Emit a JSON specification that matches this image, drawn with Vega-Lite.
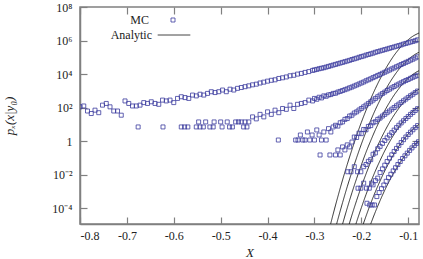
{
"$schema":"https://vega.github.io/schema/vega-lite/v6.json",
"width":339,"height":217,"autosize":"none",
"padding":{"left":80,"top":7,"right":4,"bottom":35},
"config":{
 "font":"Liberation Serif",
 "view":{"stroke":"#808080","strokeWidth":1.5},
 "axis":{"grid":false,"domainColor":"#808080","domainWidth":1.5,"tickColor":"#808080","tickWidth":1.2,"tickSize":-7,
   "labelFont":"Liberation Serif","labelFontSize":12,"labelColor":"#222",
   "titleFont":"Liberation Serif","titleFontStyle":"italic","titleFontWeight":"normal","titleFontSize":13,"titleColor":"#222"},
 "legend":{"labelFont":"Liberation Serif","labelFontSize":12,"labelColor":"#222","padding":0}
},
"datasets":{
"an":[
{"s":1,"x":-0.27,"y":3.72e-6},{"s":1,"x":-0.26,"y":4.57e-5},{"s":1,"x":-0.25,"y":5.01e-4},{"s":1,"x":-0.24,"y":4.9e-3},{"s":1,"x":-0.23,"y":0.0417},{"s":1,"x":-0.22,"y":0.316},{"s":1,"x":-0.21,"y":2.19},{"s":1,"x":-0.2,"y":13.2},{"s":1,"x":-0.19,"y":69.2},{"s":1,"x":-0.18,"y":331},{"s":1,"x":-0.17,"y":1380},{"s":1,"x":-0.16,"y":5129},{"s":1,"x":-0.15,"y":1.7e4},{"s":1,"x":-0.14,"y":5.01e4},{"s":1,"x":-0.13,"y":1.32e5},{"s":1,"x":-0.12,"y":3.02e5},{"s":1,"x":-0.11,"y":6.17e5},{"s":1,"x":-0.1,"y":1.12e6},{"s":1,"x":-0.09,"y":1.82e6},{"s":1,"x":-0.08,"y":2.57e6},{"s":1,"x":-0.077,"y":2.82e6},
{"s":2,"x":-0.26,"y":1.95e-6},{"s":2,"x":-0.25,"y":2.19e-5},{"s":2,"x":-0.24,"y":2.19e-4},{"s":2,"x":-0.23,"y":1.95e-3},{"s":2,"x":-0.22,"y":0.0151},{"s":2,"x":-0.21,"y":0.105},{"s":2,"x":-0.2,"y":0.661},{"s":2,"x":-0.19,"y":3.63},{"s":2,"x":-0.18,"y":17.4},{"s":2,"x":-0.17,"y":75.9},{"s":2,"x":-0.16,"y":288},{"s":2,"x":-0.15,"y":977},{"s":2,"x":-0.14,"y":2951},{"s":2,"x":-0.13,"y":7943},{"s":2,"x":-0.12,"y":1.91e4},{"s":2,"x":-0.11,"y":3.98e4},{"s":2,"x":-0.1,"y":7.41e4},{"s":2,"x":-0.09,"y":1.23e5},{"s":2,"x":-0.08,"y":1.82e5},{"s":2,"x":-0.077,"y":2.0e5},
{"s":3,"x":-0.245,"y":3.63e-6},{"s":3,"x":-0.24,"y":1.15e-5},{"s":3,"x":-0.23,"y":1.05e-4},{"s":3,"x":-0.22,"y":8.51e-4},{"s":3,"x":-0.21,"y":6.03e-3},{"s":3,"x":-0.2,"y":0.038},{"s":3,"x":-0.19,"y":0.219},{"s":3,"x":-0.18,"y":1.07},{"s":3,"x":-0.17,"y":4.79},{"s":3,"x":-0.16,"y":18.6},{"s":3,"x":-0.15,"y":66.1},{"s":3,"x":-0.14,"y":204},{"s":3,"x":-0.13,"y":562},{"s":3,"x":-0.12,"y":1349},{"s":3,"x":-0.11,"y":2951},{"s":3,"x":-0.1,"y":5623},{"s":3,"x":-0.09,"y":9550},{"s":3,"x":-0.08,"y":1.45e4},{"s":3,"x":-0.077,"y":1.58e4},
{"s":4,"x":-0.23,"y":4.68e-6},{"s":4,"x":-0.22,"y":3.98e-5},{"s":4,"x":-0.21,"y":2.95e-4},{"s":4,"x":-0.2,"y":1.95e-3},{"s":4,"x":-0.19,"y":0.0112},{"s":4,"x":-0.18,"y":0.0589},{"s":4,"x":-0.17,"y":0.269},{"s":4,"x":-0.16,"y":1.1},{"s":4,"x":-0.15,"y":3.98},{"s":4,"x":-0.14,"y":12.9},{"s":4,"x":-0.13,"y":36.3},{"s":4,"x":-0.12,"y":91.2},{"s":4,"x":-0.11,"y":204},{"s":4,"x":-0.1,"y":407},{"s":4,"x":-0.09,"y":724},{"s":4,"x":-0.08,"y":1122},{"s":4,"x":-0.077,"y":1259},
{"s":5,"x":-0.215,"y":5.75e-6},{"s":5,"x":-0.21,"y":1.58e-5},{"s":5,"x":-0.2,"y":1.07e-4},{"s":5,"x":-0.19,"y":6.61e-4},{"s":5,"x":-0.18,"y":3.55e-3},{"s":5,"x":-0.17,"y":0.017},{"s":5,"x":-0.16,"y":0.0708},{"s":5,"x":-0.15,"y":0.269},{"s":5,"x":-0.14,"y":0.891},{"s":5,"x":-0.13,"y":2.63},{"s":5,"x":-0.12,"y":6.92},{"s":5,"x":-0.11,"y":16.2},{"s":5,"x":-0.1,"y":33.1},{"s":5,"x":-0.09,"y":61.7},{"s":5,"x":-0.08,"y":100},{"s":5,"x":-0.077,"y":112},
{"s":6,"x":-0.2,"y":5.37e-6},{"s":6,"x":-0.19,"y":3.39e-5},{"s":6,"x":-0.18,"y":1.95e-4},{"s":6,"x":-0.17,"y":9.77e-4},{"s":6,"x":-0.16,"y":4.27e-3},{"s":6,"x":-0.15,"y":0.017},{"s":6,"x":-0.14,"y":0.0589},{"s":6,"x":-0.13,"y":0.182},{"s":6,"x":-0.12,"y":0.501},{"s":6,"x":-0.11,"y":1.23},{"s":6,"x":-0.1,"y":2.69},{"s":6,"x":-0.09,"y":5.13},{"s":6,"x":-0.08,"y":8.71},{"s":6,"x":-0.077,"y":10},
{"s":7,"x":-0.185,"y":5.01e-6},{"s":7,"x":-0.18,"y":1.17e-5},{"s":7,"x":-0.17,"y":6.17e-5},{"s":7,"x":-0.16,"y":2.88e-4},{"s":7,"x":-0.15,"y":1.2e-3},{"s":7,"x":-0.14,"y":4.37e-3},{"s":7,"x":-0.13,"y":0.0141},{"s":7,"x":-0.12,"y":0.0407},{"s":7,"x":-0.11,"y":0.105},{"s":7,"x":-0.1,"y":0.24},{"s":7,"x":-0.09,"y":0.479},{"s":7,"x":-0.08,"y":0.851},{"s":7,"x":-0.077,"y":1.0}
],
"mc":[
{"s":1,"x":-0.8,"y":112},{"s":1,"x":-0.792,"y":126},{"s":1,"x":-0.784,"y":63.1},{"s":1,"x":-0.776,"y":44.7},{"s":1,"x":-0.768,"y":70.8},{"s":1,"x":-0.76,"y":50.1},{"s":1,"x":-0.752,"y":141},{"s":1,"x":-0.744,"y":178},{"s":1,"x":-0.736,"y":112},{"s":1,"x":-0.728,"y":63.1},{"s":1,"x":-0.72,"y":63.1},{"s":1,"x":-0.712,"y":35.5},{"s":1,"x":-0.704,"y":251},{"s":1,"x":-0.696,"y":178},{"s":1,"x":-0.688,"y":126},{"s":1,"x":-0.68,"y":126},{"s":1,"x":-0.672,"y":141},{"s":1,"x":-0.664,"y":200},{"s":1,"x":-0.656,"y":178},{"s":1,"x":-0.648,"y":224},{"s":1,"x":-0.64,"y":178},{"s":1,"x":-0.632,"y":158},{"s":1,"x":-0.624,"y":282},{"s":1,"x":-0.616,"y":251},{"s":1,"x":-0.608,"y":282},{"s":1,"x":-0.6,"y":200},{"s":1,"x":-0.592,"y":355},{"s":1,"x":-0.584,"y":447},{"s":1,"x":-0.576,"y":398},{"s":1,"x":-0.568,"y":355},{"s":1,"x":-0.56,"y":562},{"s":1,"x":-0.552,"y":501},{"s":1,"x":-0.544,"y":631},{"s":1,"x":-0.536,"y":562},{"s":1,"x":-0.528,"y":708},{"s":1,"x":-0.52,"y":891},{"s":1,"x":-0.512,"y":794},{"s":1,"x":-0.504,"y":891},{"s":1,"x":-0.496,"y":1122},{"s":1,"x":-0.488,"y":891},{"s":1,"x":-0.48,"y":1259},{"s":1,"x":-0.472,"y":1122},{"s":1,"x":-0.464,"y":1413},{"s":1,"x":-0.456,"y":1585},{"s":1,"x":-0.448,"y":1778},
{"s":1,"x":-0.44,"y":1995},{"s":1,"x":-0.432,"y":2291},{"s":1,"x":-0.424,"y":2512},{"s":1,"x":-0.416,"y":2951},{"s":1,"x":-0.408,"y":3311},{"s":1,"x":-0.4,"y":3802},{"s":1,"x":-0.392,"y":4266},{"s":1,"x":-0.384,"y":4571},{"s":1,"x":-0.376,"y":5495},{"s":1,"x":-0.368,"y":6026},{"s":1,"x":-0.36,"y":6761},{"s":1,"x":-0.352,"y":7943},{"s":1,"x":-0.344,"y":8511},{"s":1,"x":-0.336,"y":10000},{"s":1,"x":-0.328,"y":1.1e4},{"s":1,"x":-0.32,"y":1.26e4},{"s":1,"x":-0.312,"y":1.41e4},{"s":1,"x":-0.304,"y":1.66e4},
{"s":1,"x":-0.3,"y":1.78e4},{"s":1,"x":-0.295,"y":1.91e4},{"s":1,"x":-0.29,"y":2.09e4},{"s":1,"x":-0.285,"y":2.24e4},{"s":1,"x":-0.28,"y":2.4e4},{"s":1,"x":-0.275,"y":2.63e4},{"s":1,"x":-0.27,"y":2.88e4},{"s":1,"x":-0.265,"y":3.16e4},{"s":1,"x":-0.26,"y":3.47e4},{"s":1,"x":-0.255,"y":3.8e4},{"s":1,"x":-0.25,"y":4.17e4},{"s":1,"x":-0.245,"y":4.57e4},{"s":1,"x":-0.24,"y":5.01e4},{"s":1,"x":-0.235,"y":5.5e4},{"s":1,"x":-0.23,"y":6.03e4},{"s":1,"x":-0.225,"y":6.61e4},{"s":1,"x":-0.22,"y":7.41e4},{"s":1,"x":-0.215,"y":8.13e4},{"s":1,"x":-0.21,"y":8.91e4},{"s":1,"x":-0.205,"y":1.0e5},{"s":1,"x":-0.2,"y":1.1e5},{"s":1,"x":-0.195,"y":1.2e5},{"s":1,"x":-0.19,"y":1.35e5},{"s":1,"x":-0.185,"y":1.48e5},{"s":1,"x":-0.18,"y":1.62e5},{"s":1,"x":-0.175,"y":1.78e5},{"s":1,"x":-0.17,"y":2.0e5},{"s":1,"x":-0.165,"y":2.19e5},{"s":1,"x":-0.16,"y":2.4e5},{"s":1,"x":-0.155,"y":2.63e5},{"s":1,"x":-0.15,"y":2.88e5},{"s":1,"x":-0.145,"y":3.16e5},{"s":1,"x":-0.14,"y":3.47e5},{"s":1,"x":-0.135,"y":3.8e5},{"s":1,"x":-0.13,"y":4.17e5},{"s":1,"x":-0.125,"y":4.57e5},{"s":1,"x":-0.12,"y":5.01e5},{"s":1,"x":-0.115,"y":5.5e5},{"s":1,"x":-0.11,"y":6.17e5},{"s":1,"x":-0.105,"y":6.76e5},{"s":1,"x":-0.1,"y":7.41e5},{"s":1,"x":-0.095,"y":8.13e5},{"s":1,"x":-0.09,"y":8.91e5},{"s":1,"x":-0.085,"y":9.77e5},{"s":1,"x":-0.08,"y":1.1e6},
{"s":2,"x":-0.676,"y":7.08},{"s":2,"x":-0.623,"y":7.08},{"s":2,"x":-0.584,"y":7.08},{"s":2,"x":-0.577,"y":7.08},{"s":2,"x":-0.57,"y":7.08},{"s":2,"x":-0.552,"y":7.08},{"s":2,"x":-0.547,"y":14.1},{"s":2,"x":-0.544,"y":7.08},{"s":2,"x":-0.537,"y":7.08},{"s":2,"x":-0.532,"y":14.1},{"s":2,"x":-0.523,"y":7.08},{"s":2,"x":-0.516,"y":7.08},{"s":2,"x":-0.514,"y":14.1},{"s":2,"x":-0.5,"y":14.1},{"s":2,"x":-0.497,"y":7.08},{"s":2,"x":-0.486,"y":14.1},{"s":2,"x":-0.481,"y":7.08},{"s":2,"x":-0.475,"y":7.08},{"s":2,"x":-0.468,"y":14.1},{"s":2,"x":-0.462,"y":14.1},{"s":2,"x":-0.456,"y":14.1},{"s":2,"x":-0.451,"y":7.08},{"s":2,"x":-0.448,"y":14.1},{"s":2,"x":-0.444,"y":7.08},
{"s":2,"x":-0.44,"y":14.1},{"s":2,"x":-0.432,"y":28.2},{"s":2,"x":-0.424,"y":21.4},{"s":2,"x":-0.416,"y":39.8},{"s":2,"x":-0.408,"y":28.2},{"s":2,"x":-0.4,"y":56.2},{"s":2,"x":-0.392,"y":39.8},{"s":2,"x":-0.384,"y":70.8},{"s":2,"x":-0.376,"y":50.1},{"s":2,"x":-0.368,"y":89.1},{"s":2,"x":-0.36,"y":79.4},{"s":2,"x":-0.352,"y":141},{"s":2,"x":-0.344,"y":89.1},{"s":2,"x":-0.336,"y":158},{"s":2,"x":-0.328,"y":178},{"s":2,"x":-0.32,"y":200},{"s":2,"x":-0.312,"y":282},{"s":2,"x":-0.304,"y":251},
{"s":2,"x":-0.3,"y":355},{"s":2,"x":-0.295,"y":316},{"s":2,"x":-0.29,"y":417},{"s":2,"x":-0.285,"y":380},{"s":2,"x":-0.28,"y":501},{"s":2,"x":-0.275,"y":479},{"s":2,"x":-0.27,"y":575},{"s":2,"x":-0.265,"y":603},{"s":2,"x":-0.26,"y":708},{"s":2,"x":-0.255,"y":724},{"s":2,"x":-0.25,"y":851},{"s":2,"x":-0.245,"y":933},{"s":2,"x":-0.24,"y":1047},{"s":2,"x":-0.235,"y":1175},{"s":2,"x":-0.23,"y":1318},{"s":2,"x":-0.225,"y":1514},{"s":2,"x":-0.22,"y":1698},{"s":2,"x":-0.215,"y":1950},{"s":2,"x":-0.21,"y":2239},{"s":2,"x":-0.205,"y":2570},{"s":2,"x":-0.2,"y":2951},{"s":2,"x":-0.195,"y":3388},{"s":2,"x":-0.19,"y":3981},{"s":2,"x":-0.185,"y":4571},{"s":2,"x":-0.18,"y":5248},{"s":2,"x":-0.175,"y":6166},{"s":2,"x":-0.17,"y":7079},{"s":2,"x":-0.165,"y":8318},{"s":2,"x":-0.16,"y":9550},{"s":2,"x":-0.155,"y":1.12e4},{"s":2,"x":-0.15,"y":1.29e4},{"s":2,"x":-0.145,"y":1.51e4},{"s":2,"x":-0.14,"y":1.74e4},{"s":2,"x":-0.135,"y":2.04e4},{"s":2,"x":-0.13,"y":2.34e4},{"s":2,"x":-0.125,"y":2.75e4},{"s":2,"x":-0.12,"y":3.16e4},{"s":2,"x":-0.115,"y":3.72e4},{"s":2,"x":-0.11,"y":4.27e4},{"s":2,"x":-0.105,"y":5.01e4},{"s":2,"x":-0.1,"y":5.75e4},{"s":2,"x":-0.095,"y":6.76e4},{"s":2,"x":-0.09,"y":7.76e4},{"s":2,"x":-0.085,"y":9.12e4},{"s":2,"x":-0.08,"y":1.07e5},
{"s":3,"x":-0.377,"y":1.175},{"s":3,"x":-0.34,"y":1.175},{"s":3,"x":-0.335,"y":1.175},{"s":3,"x":-0.33,"y":2.34},{"s":3,"x":-0.325,"y":1.175},{"s":3,"x":-0.32,"y":1.175},{"s":3,"x":-0.315,"y":3.55},{"s":3,"x":-0.31,"y":1.175},{"s":3,"x":-0.305,"y":2.34},{"s":3,"x":-0.3,"y":1.175},{"s":3,"x":-0.295,"y":4.68},{"s":3,"x":-0.29,"y":2.34},{"s":3,"x":-0.285,"y":1.175},{"s":3,"x":-0.28,"y":3.55},{"s":3,"x":-0.275,"y":1.175},{"s":3,"x":-0.27,"y":5.62},{"s":3,"x":-0.265,"y":3.55},{"s":3,"x":-0.26,"y":7.08},{"s":3,"x":-0.255,"y":8.91},{"s":3,"x":-0.25,"y":7.94},{"s":3,"x":-0.245,"y":12.6},{"s":3,"x":-0.24,"y":14.1},{"s":3,"x":-0.235,"y":20},{"s":3,"x":-0.23,"y":22.4},{"s":3,"x":-0.225,"y":31.6},{"s":3,"x":-0.22,"y":35.5},{"s":3,"x":-0.215,"y":47.9},{"s":3,"x":-0.21,"y":56.2},{"s":3,"x":-0.205,"y":72.4},{"s":3,"x":-0.2,"y":89.1},{"s":3,"x":-0.195,"y":112},{"s":3,"x":-0.19,"y":141},{"s":3,"x":-0.185,"y":178},{"s":3,"x":-0.18,"y":224},{"s":3,"x":-0.175,"y":282},{"s":3,"x":-0.17,"y":355},{"s":3,"x":-0.165,"y":447},{"s":3,"x":-0.16,"y":562},{"s":3,"x":-0.155,"y":692},{"s":3,"x":-0.15,"y":851},{"s":3,"x":-0.145,"y":1047},{"s":3,"x":-0.14,"y":1259},{"s":3,"x":-0.135,"y":1514},{"s":3,"x":-0.13,"y":1820},{"s":3,"x":-0.125,"y":2188},{"s":3,"x":-0.12,"y":2570},{"s":3,"x":-0.115,"y":3020},{"s":3,"x":-0.11,"y":3548},{"s":3,"x":-0.105,"y":4169},{"s":3,"x":-0.1,"y":4786},{"s":3,"x":-0.095,"y":5623},{"s":3,"x":-0.09,"y":6457},{"s":3,"x":-0.085,"y":7413},{"s":3,"x":-0.08,"y":8511},
{"s":4,"x":-0.288,"y":0.151},{"s":4,"x":-0.267,"y":0.151},{"s":4,"x":-0.255,"y":0.151},{"s":4,"x":-0.25,"y":0.302},{"s":4,"x":-0.245,"y":0.151},{"s":4,"x":-0.24,"y":0.457},{"s":4,"x":-0.235,"y":0.302},{"s":4,"x":-0.23,"y":0.603},{"s":4,"x":-0.225,"y":0.457},{"s":4,"x":-0.22,"y":0.891},{"s":4,"x":-0.215,"y":1.78},{"s":4,"x":-0.21,"y":1.66},{"s":4,"x":-0.205,"y":3.02},{"s":4,"x":-0.2,"y":2.82},{"s":4,"x":-0.195,"y":5.01},{"s":4,"x":-0.19,"y":4.79},{"s":4,"x":-0.185,"y":7.59},{"s":4,"x":-0.18,"y":8.51},{"s":4,"x":-0.175,"y":12.6},{"s":4,"x":-0.17,"y":14.5},{"s":4,"x":-0.165,"y":20},{"s":4,"x":-0.16,"y":24},{"s":4,"x":-0.155,"y":31.6},{"s":4,"x":-0.15,"y":39.8},{"s":4,"x":-0.145,"y":50.1},{"s":4,"x":-0.14,"y":63.1},{"s":4,"x":-0.135,"y":81.3},{"s":4,"x":-0.13,"y":102},{"s":4,"x":-0.125,"y":129},{"s":4,"x":-0.12,"y":162},{"s":4,"x":-0.115,"y":204},{"s":4,"x":-0.11,"y":257},{"s":4,"x":-0.105,"y":324},{"s":4,"x":-0.1,"y":407},{"s":4,"x":-0.095,"y":513},{"s":4,"x":-0.09,"y":631},{"s":4,"x":-0.085,"y":794},{"s":4,"x":-0.08,"y":977},
{"s":5,"x":-0.229,"y":0.0151},{"s":5,"x":-0.222,"y":0.0151},{"s":5,"x":-0.215,"y":0.0302},{"s":5,"x":-0.208,"y":0.0151},{"s":5,"x":-0.201,"y":0.0151},{"s":5,"x":-0.195,"y":0.0302},{"s":5,"x":-0.19,"y":0.0407},{"s":5,"x":-0.185,"y":0.0631},{"s":5,"x":-0.18,"y":0.0794},{"s":5,"x":-0.175,"y":0.166},{"s":5,"x":-0.17,"y":0.2},{"s":5,"x":-0.165,"y":0.355},{"s":5,"x":-0.16,"y":0.49},{"s":5,"x":-0.155,"y":0.741},{"s":5,"x":-0.15,"y":1.1},{"s":5,"x":-0.145,"y":1.58},{"s":5,"x":-0.14,"y":2.29},{"s":5,"x":-0.135,"y":3.24},{"s":5,"x":-0.13,"y":4.57},{"s":5,"x":-0.125,"y":6.46},{"s":5,"x":-0.12,"y":8.91},{"s":5,"x":-0.115,"y":12.3},{"s":5,"x":-0.11,"y":16.6},{"s":5,"x":-0.105,"y":22.4},{"s":5,"x":-0.1,"y":29.5},{"s":5,"x":-0.095,"y":39.8},{"s":5,"x":-0.09,"y":51.3},{"s":5,"x":-0.085,"y":67.6},{"s":5,"x":-0.08,"y":87.1},
{"s":6,"x":-0.207,"y":1.58e-3},{"s":6,"x":-0.201,"y":1.58e-3},{"s":6,"x":-0.195,"y":3.16e-3},{"s":6,"x":-0.189,"y":1.58e-3},{"s":6,"x":-0.183,"y":1.58e-3},{"s":6,"x":-0.178,"y":3.16e-3},{"s":6,"x":-0.175,"y":2.51e-3},{"s":6,"x":-0.17,"y":4.47e-3},{"s":6,"x":-0.165,"y":6.31e-3},{"s":6,"x":-0.16,"y":0.0135},{"s":6,"x":-0.155,"y":0.0224},{"s":6,"x":-0.15,"y":0.0372},{"s":6,"x":-0.145,"y":0.0617},{"s":6,"x":-0.14,"y":0.0977},{"s":6,"x":-0.135,"y":0.155},{"s":6,"x":-0.13,"y":0.245},{"s":6,"x":-0.125,"y":0.372},{"s":6,"x":-0.12,"y":0.562},{"s":6,"x":-0.115,"y":0.832},{"s":6,"x":-0.11,"y":1.23},{"s":6,"x":-0.105,"y":1.78},{"s":6,"x":-0.1,"y":2.51},{"s":6,"x":-0.095,"y":3.47},{"s":6,"x":-0.09,"y":4.79},{"s":6,"x":-0.085,"y":6.46},{"s":6,"x":-0.08,"y":8.51},
{"s":7,"x":-0.188,"y":2.0e-4},{"s":7,"x":-0.182,"y":1.58e-4},{"s":7,"x":-0.177,"y":1.58e-4},{"s":7,"x":-0.172,"y":1.58e-4},{"s":7,"x":-0.167,"y":5.01e-4},{"s":7,"x":-0.162,"y":8.71e-4},{"s":7,"x":-0.157,"y":1.48e-3},{"s":7,"x":-0.152,"y":2.45e-3},{"s":7,"x":-0.147,"y":4.07e-3},{"s":7,"x":-0.142,"y":6.76e-3},{"s":7,"x":-0.137,"y":0.0107},{"s":7,"x":-0.132,"y":0.017},{"s":7,"x":-0.127,"y":0.0263},{"s":7,"x":-0.122,"y":0.0407},{"s":7,"x":-0.117,"y":0.0617},{"s":7,"x":-0.112,"y":0.0933},{"s":7,"x":-0.107,"y":0.135},{"s":7,"x":-0.102,"y":0.195},{"s":7,"x":-0.097,"y":0.282},{"s":7,"x":-0.092,"y":0.398},{"s":7,"x":-0.087,"y":0.55},{"s":7,"x":-0.082,"y":0.741},{"s":7,"x":-0.078,"y":0.933}
]
},
"layer":[
{"data":{"name":"an"},
 "mark":{"type":"line","color":"#000","strokeWidth":0.8,"clip":true,"interpolate":"monotone"},
 "encoding":{
  "x":{"field":"x","type":"quantitative","scale":{"domain":[-0.8,-0.077],"nice":false,"zero":false},
       "axis":{"title":"X","values":[-0.8,-0.7,-0.6,-0.5,-0.4,-0.3,-0.2,-0.1],"labelExpr":"'-' + format(abs(datum.value), '.1f')","labelPadding":13,"titleY":32,"titleBaseline":"alphabetic"}},
  "y":{"field":"y","type":"quantitative","scale":{"type":"log","domain":[1.16e-5,1e8],"nice":false},
       "axis":{"title":"pₓ(x|y₀)","values":[1e-4,1e-2,1,100,1e4,1e6,1e8],"labelPadding":15,
         "labelExpr":"datum.value == 1 ? '1' : datum.value > 1e7 ? '10⁸' : datum.value > 1e5 ? '10⁶' : datum.value > 1e3 ? '10⁴' : datum.value > 10 ? '10²' : datum.value > 1e-3 ? '10⁻²' : '10⁻⁴'","titlePadding":35}},
  "detail":{"field":"s","type":"nominal"},
  "strokeDash":{"datum":"Analytic","scale":{"domain":["Analytic"],"range":[[1,0]]},
    "legend":{"title":null,"orient":"none","legendX":77,"legendY":11,"symbolType":"stroke","symbolSize":1063,"symbolStrokeColor":"#000","symbolStrokeWidth":0.8,"labelAlign":"right","labelOffset":-39}}
 }},
{"data":{"name":"mc"},
 "mark":{"type":"point","shape":"square","filled":false,"size":16,"strokeWidth":0.8,"clip":true,"opacity":1},
 "encoding":{
  "x":{"field":"x","type":"quantitative","axis":{"orient":"top","labels":false,"title":null,"values":[-0.8,-0.7,-0.6,-0.5,-0.4,-0.3,-0.2,-0.1],"domain":false}},
  "y":{"field":"y","type":"quantitative","axis":{"orient":"right","labels":false,"title":null,"values":[1e-4,1e-2,1,100,1e4,1e6,1e8],"domain":false}},
  "color":{"datum":"MC","scale":{"domain":["MC"],"range":["#3b3b9e"]},
    "legend":{"title":null,"orient":"none","legendX":87,"legendY":7,"symbolType":"square","symbolSize":16,"symbolStrokeWidth":0.8,"symbolFillColor":"transparent","labelAlign":"right","labelOffset":-30}}
 }}
],
"resolve":{"axis":{"x":"independent","y":"independent"}}
}
